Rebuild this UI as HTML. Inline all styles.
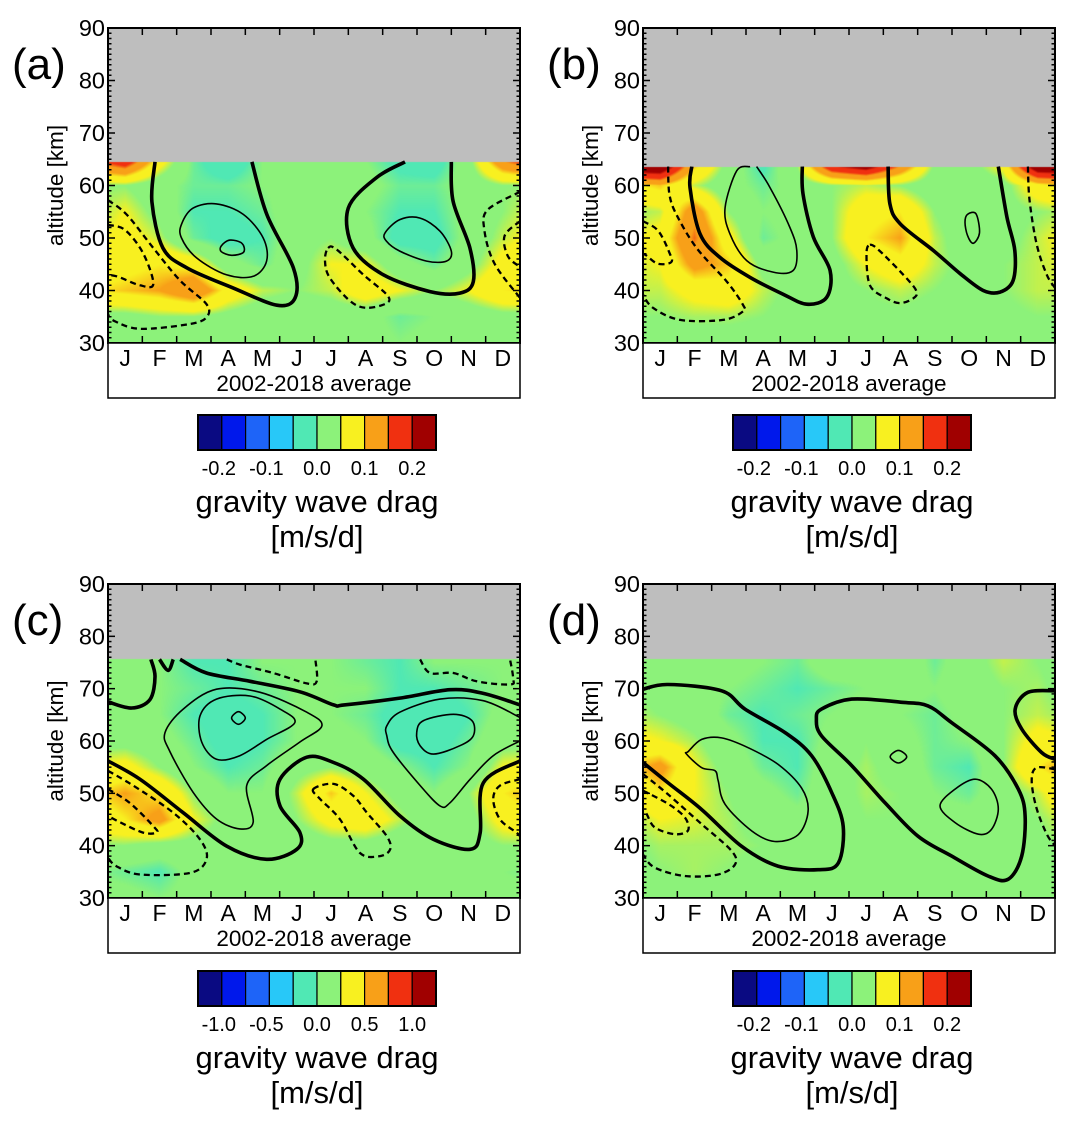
<!DOCTYPE html>
<html><head><meta charset="utf-8">
<style>
html,body{margin:0;padding:0;background:#fff;}
#wrap{position:relative;width:1071px;height:1131px;overflow:hidden;font-family:"Liberation Sans",sans-serif;}
canvas{position:absolute;}
svg{position:absolute;left:0;top:0;}
</style></head>
<body>
<div id="wrap">
<canvas id="cA"></canvas>
<canvas id="cB"></canvas>
<canvas id="cC"></canvas>
<canvas id="cD"></canvas>
<svg id="svg" width="1071" height="1131" xmlns="http://www.w3.org/2000/svg"></svg>
</div>
<script>
// ---------- data ----------
const monthLabels = ["J","F","M","A","M","J","J","A","S","O","N","D"];
const altTicks = [30,40,50,60,70,80,90];
const altLevelsTop = [30,35,40,45,50,55,60,65];
const altLevelsBottom = [30,35,40,45,50,55,60,65,70,75];
const cbLabelsSmall = ["-0.2","-0.1","0.0","0.1","0.2"];
const cbLabelsLarge = ["-1.0","-0.5","0.0","0.5","1.0"];
const dataTopA = 64.5, dataTopB = 63.6, dataTopC = 75.6, dataTopD = 75.6;

const gwdA = [
[0.02,0.02,0.02,0.02,0.02,0.02,0.02,0.02,0.01,0.02,0.02,0.02],
[0.03,0.04,0.04,0.03,0.02,0.02,0.02,0.02,0.0,0.01,0.02,0.03],
[0.1,0.11,0.14,0.08,0.05,0.04,0.05,0.08,0.06,0.04,0.06,0.09],
[0.08,0.09,0.08,0.02,0.0,0.03,0.06,0.06,0.02,0.0,0.03,0.07],
[0.07,0.05,0.0,-0.02,-0.01,0.03,0.04,0.02,-0.02,-0.02,0.02,0.05],
[0.06,0.03,-0.01,-0.01,0.0,0.03,0.04,0.01,-0.01,-0.01,0.02,0.04],
[0.04,0.02,0.0,0.0,0.01,0.02,0.03,0.02,0.0,0.0,0.02,0.04],
[0.2,0.08,0.0,-0.04,0.01,0.02,0.03,0.01,-0.02,-0.03,0.03,0.15]];
const gwdB = [
[0.03,0.03,0.03,0.03,0.03,0.03,0.03,0.02,0.02,0.02,0.03,0.03],
[0.04,0.045,0.045,0.04,0.03,0.03,0.035,0.035,0.03,0.03,0.035,0.04],
[0.05,0.07,0.08,0.05,0.03,0.03,0.04,0.05,0.04,0.03,0.04,0.05],
[0.06,0.12,0.1,0.03,0.02,0.03,0.06,0.08,0.05,0.03,0.04,0.05],
[0.07,0.15,0.07,0.0,0.02,0.04,0.09,0.11,0.05,0.02,0.03,0.05],
[0.05,0.13,0.04,0.01,0.02,0.04,0.08,0.09,0.04,0.02,0.03,0.04],
[0.1,0.05,0.02,0.0,0.02,0.04,0.05,0.04,0.02,0.02,0.03,0.08],
[0.32,0.12,0.03,-0.02,0.05,0.25,0.3,0.18,0.04,0.03,0.08,0.32]];
const gwdC = [
[0.1,0.05,0.1,0.1,0.1,0.1,0.1,0.05,0.05,0.1,0.1,0.1],
[0.0,-0.05,0.1,0.1,0.1,0.1,0.1,0.1,0.1,0.1,0.1,0.05],
[0.2,0.15,0.15,0.15,0.15,0.1,0.15,0.15,0.1,0.1,0.15,0.2],
[0.45,0.6,0.3,0.15,0.1,0.2,0.35,0.4,0.25,0.1,0.15,0.35],
[0.55,0.45,0.2,0.05,0.05,0.25,0.5,0.3,0.15,0.05,0.2,0.45],
[0.35,0.2,0.05,-0.05,0.0,0.15,0.2,0.15,0.05,-0.05,0.05,0.3],
[0.15,0.1,0.0,-0.1,-0.05,0.05,0.1,0.05,-0.1,-0.1,0.0,0.15],
[0.1,0.05,-0.05,-0.1,-0.05,0.05,0.05,0.0,-0.1,-0.15,-0.05,0.1],
[0.1,0.05,0.0,-0.05,0.0,0.05,0.05,0.05,-0.05,-0.05,0.0,0.05],
[0.05,0.05,-0.05,-0.05,0.05,0.05,0.05,0.0,-0.05,0.05,0.05,0.05]];
const gwdD = [
[0.03,0.03,0.03,0.03,0.03,0.03,0.03,0.03,0.03,0.03,0.03,0.03],
[0.04,0.045,0.04,0.03,0.03,0.03,0.03,0.03,0.03,0.03,0.03,0.03],
[0.045,0.045,0.045,0.04,0.03,0.03,0.03,0.03,0.03,0.03,0.03,0.035],
[0.06,0.055,0.045,0.03,0.02,0.03,0.04,0.04,0.02,0.02,0.03,0.04],
[0.09,0.06,0.04,0.02,0.0,0.03,0.045,0.04,0.01,0.0,0.03,0.05],
[0.12,0.06,0.03,0.0,-0.01,0.03,0.045,0.03,0.0,-0.01,0.04,0.09],
[0.06,0.045,0.02,-0.01,-0.01,0.02,0.04,0.02,0.0,0.01,0.04,0.07],
[0.04,0.03,0.0,-0.01,0.0,0.01,0.02,0.01,0.0,0.02,0.04,0.05],
[0.03,0.02,0.01,0.0,-0.01,0.0,0.01,0.02,0.01,0.03,0.04,0.045],
[0.03,0.03,0.02,0.01,0.0,0.03,0.02,0.035,0.0,0.03,0.05,0.04]];

// contour lines: [month position (0-12), altitude km]
const contoursA = [
{t:"thick",c:false,p:[[1.37,64.5],[1.28,56.9],[1.6,48.1],[2.3,44.3],[3.64,40.5],[4.92,37.2],[5.45,38.6],[5.4,44.3],[4.63,54.4],[4.19,64.5]]},
{t:"thick",c:false,p:[[8.65,64.5],[7.82,61.5],[7.0,55.7],[7.14,48.1],[8.02,43.0],[9.38,39.8],[10.25,39.5],[10.64,41.7],[10.54,48.1],[10.05,57.0],[10.0,64.5]]},
{t:"thin",c:true,p:[[2.14,52.6],[2.48,55.7],[3.16,56.5],[3.94,54.5],[4.52,50.0],[4.62,45.6],[4.23,42.7],[3.45,43.0],[2.58,46.2],[2.14,50.0]]},
{t:"thin",c:true,p:[[3.3,48.5],[3.55,49.6],[3.9,49.0],[3.95,47.3],[3.6,46.7],[3.3,47.4]]},
{t:"thin",c:true,p:[[8.07,51.0],[8.5,53.5],[9.09,53.8],[9.67,51.3],[10.0,47.5],[9.86,45.6],[9.28,45.6],[8.5,47.5],[8.11,49.4]]},
{t:"dash",c:false,p:[[0,52.5],[0.5,51.5],[1.03,47],[1.32,41.2],[0.93,41],[0.3,42.6],[0,43]]},
{t:"dash",c:false,p:[[0,57.2],[0.54,54.5],[1.32,48.1],[2.1,41.9],[2.87,37.4],[2.87,34.9],[2.37,33.6],[0.93,32.7],[0.15,34.3],[0,35.5]]},
{t:"dash",c:true,p:[[6.41,48.1],[6.66,47.8],[7.44,43],[8.12,39.2],[8.12,37.6],[7.53,36.7],[7.05,38],[6.46,42.4],[6.32,45.6]]},
{t:"dash",c:false,p:[[12,58.8],[11.06,55.4],[10.96,51.6],[11.25,45.2],[12,38.6]]},
{t:"dash",c:false,p:[[12,53.2],[11.55,50.4],[11.65,46.5],[12,44.5]]}];
const contoursB = [
{t:"thick",c:false,p:[[1.42,63.6],[1.37,59.6],[1.66,50.8],[2.24,46.3],[3.12,42.5],[4.08,39.3],[4.77,37.4],[5.35,38.7],[5.45,43.8],[4.96,50.2],[4.66,58.4],[4.64,63.6]]},
{t:"thick",c:false,p:[[7.14,63.6],[7.19,56.5],[7.49,52.7],[8.46,47.6],[9.24,43.2],[9.91,40.0],[10.4,39.7],[10.78,41.9],[10.83,47.6],[10.6,54.0],[10.35,63.6]]},
{t:"thin",c:false,p:[[3.12,63.6],[2.73,62.8],[2.39,55.8],[2.53,50.8],[3.02,45.7],[3.79,43.5],[4.37,43.8],[4.48,47.6],[4.28,52.0],[3.7,59.6],[3.31,63.6]]},
{t:"thin",c:true,p:[[9.45,54.5],[9.7,54.6],[9.8,51],[9.62,49],[9.45,50.5],[9.38,53]]},
{t:"dash",c:false,p:[[0.73,63.6],[0.77,58.3],[0.98,54.4],[1.56,48.1],[2.44,41.7],[2.91,37.3],[2.91,36.0],[2.33,34.4],[1.08,34.4],[0.29,36.7],[0,39.2]]},
{t:"dash",c:false,p:[[0,53.2],[0.44,51.4],[0.77,47.2],[0.82,45.4],[0.43,45.1],[0.09,46.7],[0,47]]},
{t:"dash",c:true,p:[[6.61,48.7],[6.9,47.5],[7.68,42.3],[7.97,39.8],[7.87,38.5],[7.49,37.6],[7.1,38.5],[6.61,41.0],[6.51,46.9]]},
{t:"dash",c:false,p:[[11.21,63.6],[11.26,57.1],[11.47,48.7],[11.76,43.0],[12,40.5]]}];
const contoursC = [
{t:"thick",c:false,p:[[0,67.5],[0.69,66.3],[1.22,67.9],[1.37,72.3],[1.25,75.6]]},
{t:"thick",c:false,p:[[1.5,75.6],[1.75,73.5],[1.9,75.6]]},
{t:"thick",c:false,p:[[2.1,75.6],[2.87,73.0],[4.14,71.4],[5.59,69.4],[6.57,66.9],[6.88,66.9],[8.5,68.2],[9.96,69.8],[10.93,69.1],[12,66.9]]},
{t:"thick",c:false,p:[[0,56.2],[0.93,52.7],[2.19,46.3],[3.46,39.9],[4.62,37.4],[5.5,39.3],[5.59,42.5],[5.01,47.6],[5.01,52.7],[5.79,56.9],[6.57,55.9],[7.44,52.7],[8.5,45.7],[9.48,41.2],[10.55,39.3],[10.84,42.5],[10.93,52.0],[12,56.2]]},
{t:"thin",c:true,p:[[1.66,61.6],[2.19,66.1],[3.16,69.9],[4.43,69.3],[5.79,65.5],[6.23,62.9],[5.59,59.8],[4.62,55.3],[4.04,51.5],[4.23,44.5],[3.84,43.2],[3.16,45.1],[2.48,50.2],[1.81,57.9]]},
{t:"thin",c:true,p:[[2.68,64.8],[3.16,68.0],[4.14,68.6],[5.01,66.1],[5.44,63.5],[4.62,60.3],[3.84,57.2],[3.16,56.5],[2.73,59.8]]},
{t:"thin",c:true,p:[[3.6,64.4],[3.8,65.6],[4.0,64.4],[3.8,63.2]]},
{t:"thin",c:false,p:[[12,64.5],[10.93,67.7],[9.67,68.0],[8.5,65.5],[8.12,62.9],[8.12,61.0],[8.3,57.9],[9.09,51.5],[9.67,47.6],[9.96,48.2],[10.55,52.7],[11.22,57.2],[12,60.0]]},
{t:"thin",c:true,p:[[8.99,61.6],[9.19,63.9],[10.06,65.1],[10.6,63.9],[10.64,61.0],[10.25,59.1],[9.48,57.5],[9.09,59.1]]},
{t:"dash",c:false,p:[[3.46,75.6],[3.84,74.6],[4.81,73.0],[5.79,71.0],[6.08,71.4],[6.04,75.6]]},
{t:"dash",c:false,p:[[9.09,75.6],[9.38,73.0],[10.06,73],[10.74,71.4],[11.71,70.8],[11.8,72.0],[11.71,75.6]]},
{t:"dash",c:false,p:[[0,54.3],[0.73,51.5],[1.9,46.3],[2.68,41.2],[2.87,37.4],[2.39,34.8],[0.93,34.5],[0.24,36.1],[0,37.7]]},
{t:"dash",c:false,p:[[0,50.8],[0.63,48.2],[1.31,43.8],[1.42,42.5],[1.02,42.5],[0.34,44.5],[0,45.7]]},
{t:"dash",c:true,p:[[5.98,50.8],[6.57,51.8],[7.15,49.5],[7.54,46.3],[8.12,41.8],[8.22,39.3],[7.92,38.0],[7.34,38.6],[6.76,45.0],[6.18,48.9]]},
{t:"dash",c:false,p:[[12,52.7],[11.42,51.5],[11.22,48.9],[11.42,45.0],[11.9,42.5],[12,41.8]]}];
const contoursD = [
{t:"thick",c:false,p:[[0,69.9],[0.73,70.8],[2.29,69.6],[2.97,66.1],[4.14,61.6],[4.91,57.2],[5.5,50.1],[5.83,43.7],[5.69,36.7],[5.1,35.4],[3.93,36.1],[2.87,39.9],[1.71,46.9],[0.73,52.0],[0,55.9]]},
{t:"thick",c:true,p:[[5.2,66.1],[6.08,68.0],[7.54,67.4],[8.3,66.7],[8.99,63.5],[10.25,57.2],[10.93,50.8],[11.13,45.7],[11.03,38.0],[10.64,33.6],[10.05,34.2],[8.99,38.0],[8.01,41.8],[7.05,48.2],[6.08,55.3],[5.2,61.0],[5.05,64.2]]},
{t:"thick",c:false,p:[[12,69.6],[11.21,69.3],[10.84,66.1],[11.03,62.3],[11.61,57.8],[12,56.5]]},
{t:"thin",c:true,p:[[1.32,58.0],[1.71,60.3],[2.29,60.6],[3.07,58.7],[3.94,55.5],[4.62,51.0],[4.81,46.6],[4.52,42.1],[3.84,40.8],[3.17,42.8],[2.39,47.9],[2.19,52.4],[2.1,54.3],[1.71,54.9],[1.27,57.5]]},
{t:"thin",c:true,p:[[7.2,57.0],[7.44,58.2],[7.68,57.0],[7.44,55.8]]},
{t:"thin",c:true,p:[[8.65,47.6],[9.09,50.8],[9.67,52.7],[10.15,50.8],[10.35,47.0],[10.15,43.1],[9.77,42.2],[9.09,44.4]]},
{t:"dash",c:false,p:[[0,53.7],[0.73,49.8],[1.71,44.1],[2.58,39.0],[2.68,36.4],[2.19,34.5],[1.22,34.2],[0.34,35.8],[0,38.3]]},
{t:"dash",c:false,p:[[0,50.5],[0.73,48.0],[1.22,45.4],[1.31,42.9],[0.92,42.2],[0.34,43.5],[0.1,46.1],[0,46.5]]},
{t:"dash",c:false,p:[[12,54.6],[11.46,54.9],[11.32,52.4],[11.46,47.2],[11.76,42.2],[12,40.0]]}];

// ---------- rendering ----------
const cmapColors = [[10,10,130],[0,24,235],[30,100,248],[40,200,248],[80,232,180],[140,242,122],[248,240,32],[248,160,24],[240,48,16],[160,0,0]];
const svgNS = "http://www.w3.org/2000/svg";
const svg = document.getElementById('svg');
function el(tag, attrs, parent){const e=document.createElementNS(svgNS,tag);for(const k in attrs)e.setAttribute(k,attrs[k]);(parent||svg).appendChild(e);return e;}

function colorFor(v, seg){
  let k = v/seg + 5;
  let p = k-0.5; if(p<0)p=0; if(p>9)p=9;
  let i=Math.floor(p); if(i>8)i=8; let f=p-i;
  let g = f<0.3?0:(f>0.7?1:(f-0.3)/0.4);
  const a=cmapColors[i], b=cmapColors[i+1];
  return [a[0]+(b[0]-a[0])*g, a[1]+(b[1]-a[1])*g, a[2]+(b[2]-a[2])*g];
}

const panels = [
 {id:"a",canvas:"cA",x0:108,y0:28,W:412,H:315,data:gwdA,levels:altLevelsTop,top:dataTopA,seg:0.05,cont:contoursA,cb:cbLabelsSmall},
 {id:"b",canvas:"cB",x0:643,y0:28,W:412,H:315,data:gwdB,levels:altLevelsTop,top:dataTopB,seg:0.05,cont:contoursB,cb:cbLabelsSmall},
 {id:"c",canvas:"cC",x0:108,y0:584,W:412,H:314,data:gwdC,levels:altLevelsBottom,top:dataTopC,seg:0.25,cont:contoursC,cb:cbLabelsLarge},
 {id:"d",canvas:"cD",x0:643,y0:584,W:412,H:314,data:gwdD,levels:altLevelsBottom,top:dataTopD,seg:0.05,cont:contoursD,cb:cbLabelsSmall}];

function sample(P, m, alt){
  const L=P.levels, D=P.data;
  let r=(alt-L[0])/(L[1]-L[0]); if(r<0)r=0; if(r>L.length-1)r=L.length-1;
  let r0=Math.floor(r); if(r0>L.length-2)r0=L.length-2; const fr=r-r0;
  let c=m-0.5; let c0=Math.floor(c); const fc=c-c0;
  const ci=(j)=>((j%12)+12)%12;
  const v00=D[r0][ci(c0)], v01=D[r0][ci(c0+1)], v10=D[r0+1][ci(c0)], v11=D[r0+1][ci(c0+1)];
  return (v00*(1-fc)+v01*fc)*(1-fr)+(v10*(1-fc)+v11*fc)*fr;
}

function catmull(pts, closed){
  const n=pts.length; let d="M"+pts[0][0].toFixed(1)+","+pts[0][1].toFixed(1);
  const get=(i)=>{ if(closed) return pts[(i+n)%n]; return pts[Math.max(0,Math.min(n-1,i))]; };
  const last = closed?n:n-1;
  for(let i=0;i<last;i++){
    const p0=get(i-1),p1=get(i),p2=get(i+1),p3=get(i+2);
    const c1=[p1[0]+(p2[0]-p0[0])/6,p1[1]+(p2[1]-p0[1])/6];
    const c2=[p2[0]-(p3[0]-p1[0])/6,p2[1]-(p3[1]-p1[1])/6];
    d+=" C"+c1[0].toFixed(1)+","+c1[1].toFixed(1)+" "+c2[0].toFixed(1)+","+c2[1].toFixed(1)+" "+p2[0].toFixed(1)+","+p2[1].toFixed(1);
  }
  return closed?d+"Z":d;
}

panels.forEach(P=>{
  const xs=(m)=>P.x0+m/12*P.W;
  const ys=(alt)=>P.y0+(90-alt)/60*P.H;
  const cv=document.getElementById(P.canvas);
  cv.width=P.W; cv.height=P.H; cv.style.left=P.x0+"px"; cv.style.top=P.y0+"px";
  const ctx=cv.getContext('2d'); const img=ctx.createImageData(P.W,P.H);
  for(let y=0;y<P.H;y++){
    const alt=90-(y+0.5)/P.H*60;
    for(let x=0;x<P.W;x++){
      let col;
      if(alt>P.top) col=[190,190,190];
      else col=colorFor(sample(P,(x+0.5)/P.W*12,alt),P.seg);
      const o=(y*P.W+x)*4; img.data[o]=col[0];img.data[o+1]=col[1];img.data[o+2]=col[2];img.data[o+3]=255;
    }
  }
  ctx.putImageData(img,0,0);

  const g=el('g',{});
  
  
  const cp=el('clipPath',{id:'clip'+P.id},g);
  el('rect',{x:P.x0,y:P.y0,width:P.W,height:P.H},cp);
  const cg=el('g',{'clip-path':'url(#clip'+P.id+')'},g);
  
  
  P.cont.forEach(cn=>{
    const pts=cn.p.map(q=>[xs(q[0]),ys(q[1])]);
    const path=el('path',{d:catmull(pts,cn.c),fill:'none',stroke:'#000','stroke-width':cn.t==='thick'?3.6:(cn.t==='thin'?1.6:2.3),'stroke-linejoin':'round'},cg);
    if(cn.t==='dash') path.setAttribute('stroke-dasharray','6,4');
    
    
  });
  const fr=el('rect',{x:P.x0,y:P.y0,width:P.W,height:P.H,fill:'none',stroke:'#000','stroke-width':2},g);
  
  
  for(let a=30;a<=90;a++){
    const len=(a%10===0)?7:3.5; const yy=ys(a);
    el('line',{x1:P.x0,x2:P.x0+len,y1:yy,y2:yy,stroke:'#000','stroke-width':1.5},g);
    el('line',{x1:P.x0+P.W,x2:P.x0+P.W-len,y1:yy,y2:yy,stroke:'#000','stroke-width':1.5},g);
  }
  altTicks.forEach(a=>{
    const t=el('text',{x:P.x0-3,y:ys(a)+8,'text-anchor':'end','font-size':23.5,fill:'#000'},g);
    t.textContent=a;
    
    
  });
  for(let m=1;m<12;m++){
    const xx=xs(m);
    el('line',{x1:xx,x2:xx,y1:P.y0+P.H,y2:P.y0+P.H-7,stroke:'#000','stroke-width':1.5},g);
    el('line',{x1:xx,x2:xx,y1:P.y0,y2:P.y0+7,stroke:'#000','stroke-width':1.5},g);
  }
  const yt=el('text',{x:0,y:0,'text-anchor':'middle','font-size':22.5,fill:'#000',transform:'translate('+(P.x0-45)+','+ys(60)+') rotate(-90)'},g);
  yt.textContent='altitude  [km]';
  
  
  const pl=el('text',{x:P.x0-96,y:P.y0+51,'font-size':44,fill:'#000'},g);
  pl.textContent='('+P.id+')';
  
  
  const lb=el('rect',{x:P.x0,y:P.y0+P.H,width:P.W,height:55,fill:'#fff',stroke:'#000','stroke-width':1.5},g);
  
  
  monthLabels.forEach((ml,i)=>{
    const t=el('text',{x:xs(i+0.5),y:P.y0+P.H+23,'text-anchor':'middle','font-size':23,fill:'#000'},g);
    t.textContent=ml;
    
    
  });
  const xt=el('text',{x:P.x0+P.W/2,y:P.y0+P.H+48,'text-anchor':'middle','font-size':22.5,fill:'#000'},g);
  xt.textContent='2002-2018 average';
  
  
  const cbx=P.x0+90, cby=P.y0+387, cbw=238, cbh=35;
  const cbg=el('g',{},g);
  
  
  for(let i=0;i<10;i++){
    const c=cmapColors[i];
    el('rect',{x:cbx+i*cbw/10,y:cby,width:cbw/10,height:cbh,fill:'rgb('+c.join(',')+')',stroke:'#000','stroke-width':1.2},cbg);
  }
  el('rect',{x:cbx,y:cby,width:cbw,height:cbh,fill:'none',stroke:'#000','stroke-width':2},cbg);
  P.cb.forEach((lab,i)=>{
    const t=el('text',{x:cbx+cbw/10*(1+2*i)+(lab[0]==='-'?-3:0),y:cby+60,'text-anchor':'middle','font-size':20,fill:'#000'},cbg);
    t.textContent=lab;
    
    
  });
  const ct=el('text',{x:cbx+cbw/2,y:cby+97,'text-anchor':'middle','font-size':31,fill:'#000'},cbg);
  ct.textContent='gravity wave drag';
  
  
  const cu=el('text',{x:cbx+cbw/2,y:cby+132,'text-anchor':'middle','font-size':31,fill:'#000'},cbg);
  cu.textContent='[m/s/d]';
  
  
});
</script>
</body></html>
